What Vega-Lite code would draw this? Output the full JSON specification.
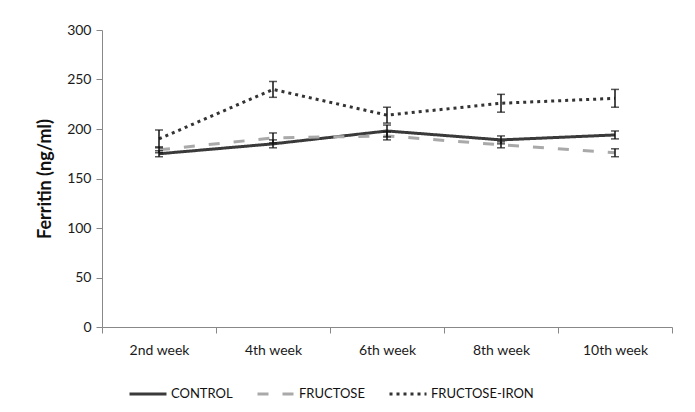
{
  "$schema": "https://vega.github.io/schema/vega-lite/v6.json",
  "autosize": {"type": "none"},
  "padding": {"left": 102, "top": 30, "right": 23, "bottom": 85},
  "width": 570,
  "height": 297,
  "background": "white",
  "config": {
    "view": {"stroke": null},
    "font": "Lato",
    "axis": {"grid": false, "domainColor": "#888888", "tickColor": "#888888", "labelColor": "#1a1a1a", "labelFont": "Lato", "labelFontSize": 14, "titleFont": "Lato"}
  },
  "data": {
    "values": [
      {"week": "2nd week", "group": "CONTROL", "value": 175, "lo": 172, "hi": 178},
      {"week": "4th week", "group": "CONTROL", "value": 185, "lo": 181, "hi": 189},
      {"week": "6th week", "group": "CONTROL", "value": 198, "lo": 192, "hi": 204},
      {"week": "8th week", "group": "CONTROL", "value": 189, "lo": 185, "hi": 193},
      {"week": "10th week", "group": "CONTROL", "value": 194, "lo": 190, "hi": 198},
      {"week": "2nd week", "group": "FRUCTOSE", "value": 179, "lo": 176, "hi": 182},
      {"week": "4th week", "group": "FRUCTOSE", "value": 191, "lo": 186, "hi": 196},
      {"week": "6th week", "group": "FRUCTOSE", "value": 193, "lo": 189, "hi": 197},
      {"week": "8th week", "group": "FRUCTOSE", "value": 184, "lo": 181, "hi": 187},
      {"week": "10th week", "group": "FRUCTOSE", "value": 176, "lo": 172, "hi": 180},
      {"week": "2nd week", "group": "FRUCTOSE-IRON", "value": 190, "lo": 181, "hi": 199},
      {"week": "4th week", "group": "FRUCTOSE-IRON", "value": 240, "lo": 232, "hi": 248},
      {"week": "6th week", "group": "FRUCTOSE-IRON", "value": 214, "lo": 206, "hi": 222},
      {"week": "8th week", "group": "FRUCTOSE-IRON", "value": 226, "lo": 217, "hi": 235},
      {"week": "10th week", "group": "FRUCTOSE-IRON", "value": 231, "lo": 222, "hi": 240}
    ]
  },
  "encoding": {
    "x": {
      "field": "week", "type": "nominal", "sort": null,
      "scale": {"paddingInner": 0, "paddingOuter": 0},
      "axis": {"title": null, "labelAngle": 0, "tickBand": "extent", "tickSize": 6, "labelPadding": 10, "domainWidth": 1.2}
    }
  },
  "layer": [
    {
      "mark": {"type": "line", "strokeCap": "butt"},
      "encoding": {
        "y": {
          "field": "value", "type": "quantitative",
          "scale": {"domain": [0, 300], "nice": false},
          "axis": {"title": "Ferritin (ng/ml)", "titleFontSize": 18, "titleFontWeight": "bold", "titleColor": "#111111", "values": [0, 50, 100, 150, 200, 250, 300], "tickSize": 6, "labelPadding": 5, "titlePadding": 12}
        },
        "color": {
          "field": "group", "type": "nominal",
          "scale": {"domain": ["CONTROL", "FRUCTOSE", "FRUCTOSE-IRON"], "range": ["#3a3a3a", "#a9a9a9", "#333333"]},
          "legend": {
            "title": null, "orient": "none", "direction": "horizontal", "legendX": 26, "legendY": 344,
            "symbolType": "stroke", "symbolSize": 1369, "labelFont": "Lato", "labelFontSize": 13, "labelColor": "#111111", "labelOffset": 3, "columnPadding": 18
          }
        },
        "strokeDash": {
          "field": "group", "type": "nominal",
          "scale": {"domain": ["CONTROL", "FRUCTOSE", "FRUCTOSE-IRON"], "range": [[1, 0], [11, 14], [3, 4]]}
        },
        "strokeWidth": {
          "field": "group", "type": "nominal",
          "scale": {"domain": ["CONTROL", "FRUCTOSE", "FRUCTOSE-IRON"], "range": [3, 3, 2.6]}
        }
      }
    },
    {
      "mark": {"type": "rule", "color": "#111111", "strokeWidth": 1.5},
      "encoding": {
        "y": {"field": "lo", "type": "quantitative"},
        "y2": {"field": "hi"}
      }
    },
    {
      "mark": {"type": "tick", "color": "#111111", "thickness": 1.5, "size": 8},
      "encoding": {
        "y": {"field": "lo", "type": "quantitative"}
      }
    },
    {
      "mark": {"type": "tick", "color": "#111111", "thickness": 1.5, "size": 8},
      "encoding": {
        "y": {"field": "hi", "type": "quantitative"}
      }
    }
  ]
}
